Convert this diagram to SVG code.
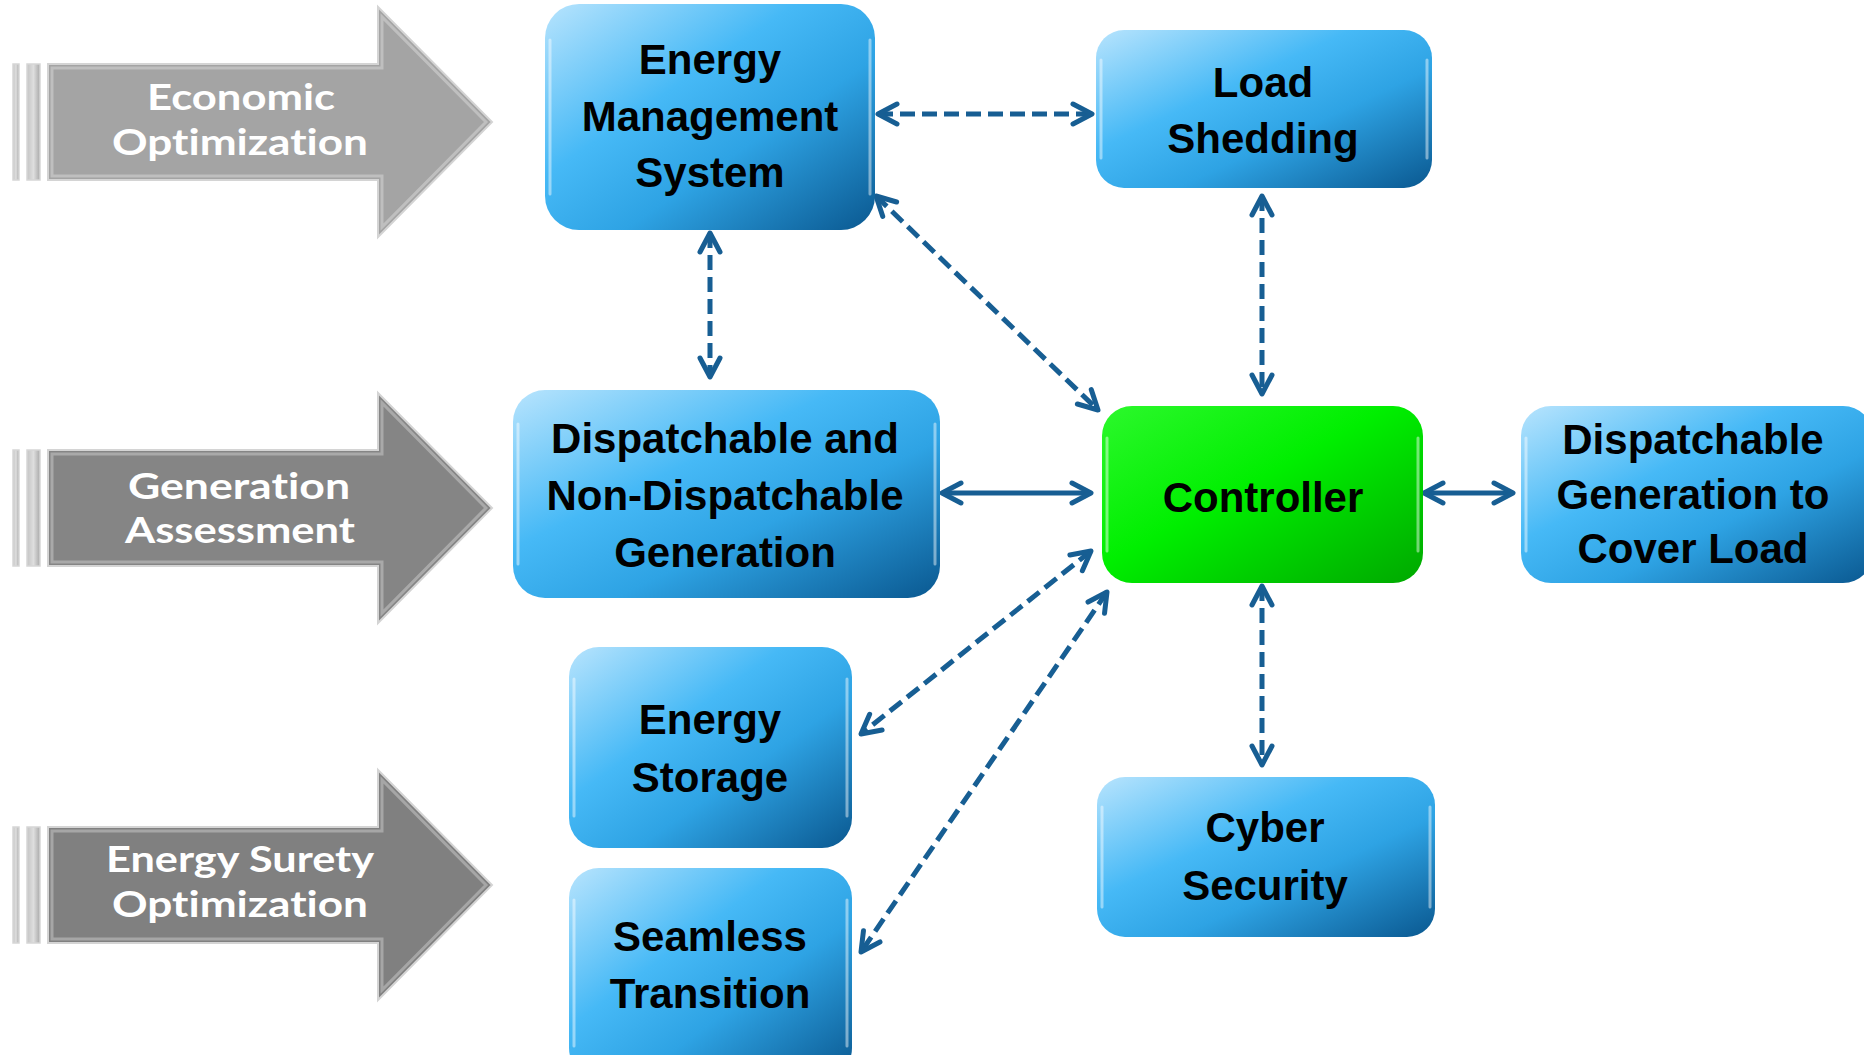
<svg xmlns="http://www.w3.org/2000/svg" width="1864" height="1055" viewBox="0 0 1864 1055">
  <defs>
    <linearGradient id="blueFill" x1="0" y1="0" x2="1" y2="1">
      <stop offset="0" stop-color="#b8e4fd"/>
      <stop offset="0.38" stop-color="#46b9f6"/>
      <stop offset="0.62" stop-color="#2ea3e4"/>
      <stop offset="1" stop-color="#0a5890"/>
    </linearGradient>
    <linearGradient id="greenFill" x1="0" y1="0" x2="1" y2="1">
      <stop offset="0" stop-color="#2cf82c"/>
      <stop offset="0.45" stop-color="#00ef00"/>
      <stop offset="1" stop-color="#00a800"/>
    </linearGradient>
    <linearGradient id="barFill" x1="0" y1="0" x2="1" y2="0">
      <stop offset="0" stop-color="#c4c4c4"/>
      <stop offset="0.5" stop-color="#dedede"/>
      <stop offset="1" stop-color="#a9a9a9"/>
    </linearGradient>
    <marker id="tip" viewBox="-26 -14 32 28" markerWidth="32" markerHeight="28" markerUnits="userSpaceOnUse" refX="0" refY="0" orient="auto-start-reverse">
      <path d="M-19,-10 L0,0 L-19,10" fill="none" stroke="#175e93" stroke-width="5" stroke-linecap="round" stroke-linejoin="round"/>
    </marker>
  </defs>
  <style>
    .box { fill: url(#blueFill); }
    .ctl { fill: url(#greenFill); }
    .shine { fill: none; stroke: #ffffff; stroke-opacity: 0.45; stroke-width: 3; stroke-linecap: round; }
    .lbl { font-family: "Liberation Sans", Arial, sans-serif; font-weight: 700; font-size: 42px; fill: #000000; text-anchor: middle; }
    .stage { font-family: Lato, "Open Sans", "Liberation Sans", sans-serif; font-weight: 700; font-size: 37px; fill: #ffffff; text-anchor: middle; font-variant-ligatures: none; }
    .bar { fill: url(#barFill); stroke: #d6d6d6; stroke-width: 1.5; }
    .body { stroke: #d4d4d4; stroke-width: 2; }
    .bevel { fill: none; stroke: #ffffff; stroke-opacity: 0.3; stroke-width: 3; }
    .link { fill: none; stroke: #175e93; stroke-width: 5; marker-start: url(#tip); marker-end: url(#tip); }
    .dash { stroke-dasharray: 15 7; }
  </style>

  <rect width="1864" height="1055" fill="#ffffff"/>

  <!-- stage arrows on the left -->
  <g id="stage-economic">
    <rect class="bar" x="13" y="64" width="6" height="116"/>
    <rect class="bar" x="27" y="64" width="13" height="116"/>
    <polygon class="body" fill="#a4a4a4" points="48,64 378,64 378,7 492,122 378,237 378,180 48,180"/>
    <polygon class="bevel" points="52,68 382,68 382,17 486,122 382,227 382,176 52,176"/>
    <text class="stage" x="241" y="110" textLength="188" lengthAdjust="spacingAndGlyphs">Economic</text>
    <text class="stage" x="240" y="155" textLength="256" lengthAdjust="spacingAndGlyphs">Optimization</text>
  </g>
  <g id="stage-generation">
    <rect class="bar" x="13" y="450" width="6" height="116"/>
    <rect class="bar" x="27" y="450" width="13" height="116"/>
    <polygon class="body" fill="#858585" points="48,450 378,450 378,393 492,508 378,623 378,566 48,566"/>
    <polygon class="bevel" points="52,454 382,454 382,403 486,508 382,613 382,562 52,562"/>
    <text class="stage" x="239" y="499" textLength="222" lengthAdjust="spacingAndGlyphs">Generation</text>
    <text class="stage" x="240" y="543" textLength="230" lengthAdjust="spacingAndGlyphs">Assessment</text>
  </g>
  <g id="stage-surety">
    <rect class="bar" x="13" y="827" width="6" height="116"/>
    <rect class="bar" x="27" y="827" width="13" height="116"/>
    <polygon class="body" fill="#808080" points="48,827 378,827 378,770 492,885 378,1000 378,943 48,943"/>
    <polygon class="bevel" points="52,831 382,831 382,780 486,885 382,990 382,939 52,939"/>
    <text class="stage" x="240" y="872" textLength="268" lengthAdjust="spacingAndGlyphs">Energy Surety</text>
    <text class="stage" x="240" y="917" textLength="256" lengthAdjust="spacingAndGlyphs">Optimization</text>
  </g>

  <!-- links between blocks -->
  <g id="connectors">
    <path class="link dash" d="M878,114 L1092,114"/>
    <path class="link dash" d="M710,233 L710,377"/>
    <path class="link dash" d="M876,196 L1098,410"/>
    <path class="link dash" d="M1262,196 L1262,394"/>
    <path class="link" d="M942,493 L1091,493"/>
    <path class="link" d="M1424,493 L1513,493"/>
    <path class="link dash" d="M1262,586 L1262,765"/>
    <path class="link dash" d="M1091,551 L861,734"/>
    <path class="link dash" d="M1107,592 L861,952"/>
  </g>

  <!-- blocks: rounded face plus thin side highlights -->
  <g id="ems">
    <rect class="box" x="545" y="4" width="330" height="226" rx="34"/>
    <path class="shine" d="M550,40 L550,194 M870,40 L870,194"/>
    <text class="lbl" x="710" y="74">Energy</text>
    <text class="lbl" x="710" y="131">Management</text>
    <text class="lbl" x="710" y="187">System</text>
  </g>
  <g id="load-shedding">
    <rect class="box" x="1096" y="30" width="336" height="158" rx="28"/>
    <path class="shine" d="M1101,60 L1101,158 M1427,60 L1427,158"/>
    <text class="lbl" x="1263" y="97">Load</text>
    <text class="lbl" x="1263" y="153">Shedding</text>
  </g>
  <g id="generation">
    <rect class="box" x="513" y="390" width="427" height="208" rx="32"/>
    <path class="shine" d="M518,424 L518,564 M935,424 L935,564"/>
    <text class="lbl" x="725" y="453">Dispatchable and</text>
    <text class="lbl" x="725" y="510">Non-Dispatchable</text>
    <text class="lbl" x="725" y="567">Generation</text>
  </g>
  <g id="controller">
    <rect class="ctl" x="1102" y="406" width="321" height="177" rx="30"/>
    <path class="shine" d="M1107,438 L1107,551 M1418,438 L1418,551"/>
    <text class="lbl" x="1263" y="512" font-size="48">Controller</text>
  </g>
  <g id="cover-load">
    <rect class="box" x="1521" y="406" width="352" height="177" rx="30"/>
    <path class="shine" d="M1526,438 L1526,551"/>
    <text class="lbl" x="1693" y="454" font-size="39">Dispatchable</text>
    <text class="lbl" x="1693" y="509" font-size="39">Generation to</text>
    <text class="lbl" x="1693" y="563" font-size="39">Cover Load</text>
  </g>
  <g id="energy-storage">
    <rect class="box" x="569" y="647" width="283" height="201" rx="30"/>
    <path class="shine" d="M574,679 L574,816 M847,679 L847,816"/>
    <text class="lbl" x="710" y="734">Energy</text>
    <text class="lbl" x="710" y="792">Storage</text>
  </g>
  <g id="seamless-transition">
    <rect class="box" x="569" y="868" width="283" height="210" rx="30"/>
    <path class="shine" d="M574,900 L574,1046 M847,900 L847,1046"/>
    <text class="lbl" x="710" y="951">Seamless</text>
    <text class="lbl" x="710" y="1008">Transition</text>
  </g>
  <g id="cyber-security">
    <rect class="box" x="1097" y="777" width="338" height="160" rx="28"/>
    <path class="shine" d="M1102,807 L1102,907 M1430,807 L1430,907"/>
    <text class="lbl" x="1265" y="842">Cyber</text>
    <text class="lbl" x="1265" y="900">Security</text>
  </g>
</svg>
